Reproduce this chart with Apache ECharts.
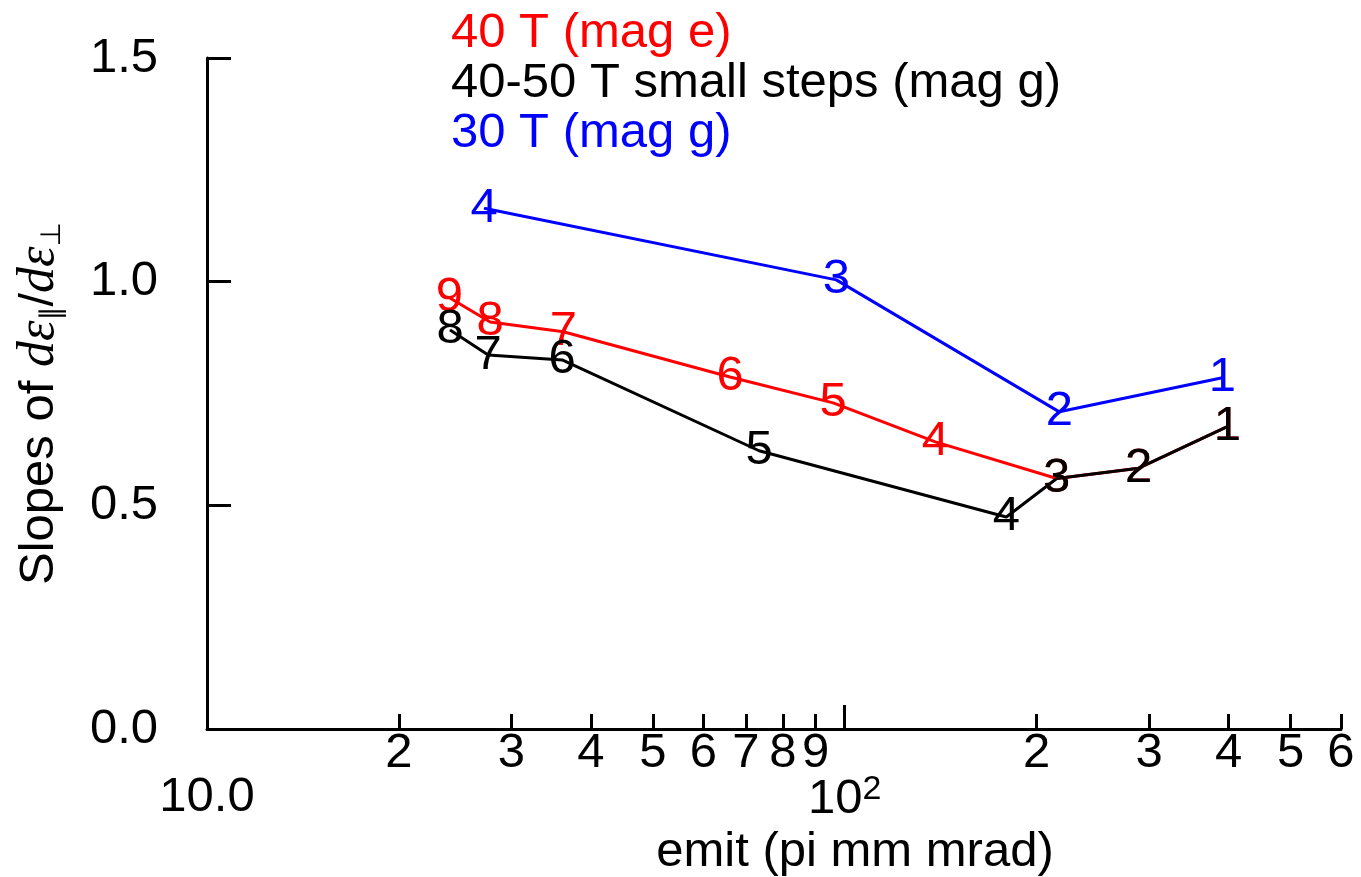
<!DOCTYPE html>
<html>
<head>
<meta charset="utf-8">
<script src="https://cdn.jsdelivr.net/npm/echarts@6/dist/echarts.min.js"></script>
<style>
html,body{margin:0;padding:0;background:#fff;}
#chart{width:1361px;height:877px;}
</style>
</head>
<body>
<div id="chart"></div>
<script>
// ---- data ----
const seriesNames = ['40 T (mag e)', '40-50 T small steps (mag g)', '30 T (mag g)'];

const blueX = [391, 217, 97.0, 27.2];
const blueY = [0.785, 0.709, 1.004, 1.164];
const blueLabels = ['1', '2', '3', '4'];

const redX = [398, 289, 215, 138.7, 95.9, 66.1, 36.2, 27.8, 24.0];
const redY = [0.676, 0.583, 0.560, 0.642, 0.729, 0.787, 0.888, 0.910, 0.964];
const redLabels = ['1', '2', '3', '4', '5', '6', '7', '8', '9'];

const blackX = [398, 289, 215, 179.2, 73.4, 36.05, 27.6, 24.05];
const blackY = [0.676, 0.583, 0.560, 0.474, 0.622, 0.825, 0.836, 0.892];
const blackLabels = ['1', '2', '3', '4', '5', '6', '7', '8'];

const xMinorTicks = [20, 30, 40, 50, 60, 70, 80, 90, 200, 300, 400, 500, 600];
const xMajorTicks = [100];
const xMajorLabels = [10, 100];

// ---- build ----
const FONT = 'Liberation Sans';
const FS = 49;
function rows(xs, ys, ls) { return xs.map((x, i) => [x, ys[i], ls[i]]); }

function lineSeries(name, color, data) {
  return {
    name: name,
    type: 'line',
    xAxisIndex: 0,
    data: data,
    symbol: 'circle',
    symbolSize: 1,
    itemStyle: { color: color },
    lineStyle: { color: color, width: 3 },
    label: {
      show: true,
      position: 'inside',
      color: color,
      fontFamily: FONT,
      fontSize: FS,
      formatter: p => p.data[2]
    },
    emphasis: { disabled: true },
    z: 2
  };
}

const chart = echarts.init(document.getElementById('chart'), null, { renderer: 'canvas' });

const axisLineStyle = { color: '#000', width: 3 };

const option = {
  animation: false,
  backgroundColor: '#fff',
  grid: { left: 207, top: 58, right: 20, bottom: 148, containLabel: false, outerBoundsMode: 'none' },
  legend: {
    orient: 'vertical',
    left: 441,
    top: 3,
    itemGap: 0,
    itemWidth: 0,
    itemHeight: 0,
    icon: 'rect',
    itemStyle: { opacity: 0 },
    lineStyle: { opacity: 0 },
    selectedMode: false,
    textStyle: { fontFamily: FONT, fontSize: FS, lineHeight: 50 },
    data: [
      { name: seriesNames[0], textStyle: { color: '#ff0000' } },
      { name: seriesNames[1], textStyle: { color: '#000000' } },
      { name: seriesNames[2], textStyle: { color: '#0000ff' } }
    ]
  },
  xAxis: [
    {
      type: 'log',
      logBase: 10,
      min: 10,
      max: 600,
      position: 'bottom',
      axisLine: { show: true, lineStyle: axisLineStyle },
      axisTick: { show: true, inside: true, length: 15, lineStyle: { color: '#000', width: 3 }, customValues: xMinorTicks },
      axisLabel: {
        show: true,
        customValues: xMinorTicks,
        margin: 0,
        fontFamily: FONT,
        fontSize: FS,
        color: '#000',
        formatter: v => String(Math.round(v / Math.pow(10, Math.floor(Math.log10(v) + 1e-9))))
      },
      splitLine: { show: false },
      minorTick: { show: false }
    },
    {
      type: 'log',
      logBase: 10,
      min: 10,
      max: 600,
      position: 'bottom',
      axisLine: { show: false },
      axisTick: { show: true, inside: true, length: 24, lineStyle: { color: '#000', width: 3 }, customValues: xMajorTicks },
      axisLabel: {
        show: true,
        customValues: xMajorLabels,
        margin: 44,
        fontFamily: FONT,
        fontSize: FS,
        color: '#000',
        formatter: v => (Math.abs(v - 10) < 1e-6 ? '10.0' : '{b|10}{sup|2}'),
        rich: {
          b: { fontFamily: FONT, fontSize: FS, color: '#000' },
          sup: { fontFamily: FONT, fontSize: 34, color: '#000', verticalAlign: 'top', lineHeight: 52 }
        }
      },
      splitLine: { show: false },
      name: 'emit (pi mm mrad)',
      nameLocation: 'middle',
      nameGap: 96,
      nameTextStyle: { fontFamily: FONT, fontSize: FS, color: '#000', padding: [0, 0, 0, 162] }
    }
  ],
  yAxis: {
    type: 'value',
    min: 0,
    max: 1.5,
    interval: 0.5,
    axisLine: { show: true, lineStyle: axisLineStyle },
    axisTick: { show: true, inside: true, length: 24, lineStyle: { color: '#000', width: 3 } },
    axisLabel: {
      margin: 49,
      fontFamily: FONT,
      fontSize: FS,
      color: '#000',
      formatter: v => v.toFixed(1)
    },
    splitLine: { show: false },
    name: '{t|Slopes of }{m|dε}{s|∥}{t|/}{m|dε}{s|⊥}',
    nameLocation: 'middle',
    nameGap: 140,
    nameRotate: 90,
    nameTextStyle: {
      padding: [0, 20, 0, 0],
      rich: {
        t: { fontFamily: FONT, fontSize: FS, color: '#000', lineHeight: 56 },
        m: { fontFamily: 'Liberation Serif', fontStyle: 'italic', fontSize: 52, color: '#000', lineHeight: 56 },
        s: { fontFamily: 'DejaVu Sans', fontSize: 28, color: '#000', verticalAlign: 'bottom', lineHeight: 28 }
      }
    }
  },
  series: [
    lineSeries(seriesNames[2], '#0000ff', rows(blueX, blueY, blueLabels)),
    lineSeries(seriesNames[0], '#ff0000', rows(redX, redY, redLabels)),
    lineSeries(seriesNames[1], '#000000', rows(blackX, blackY, blackLabels))
  ]
};

chart.setOption(option);
</script>
</body>
</html>
